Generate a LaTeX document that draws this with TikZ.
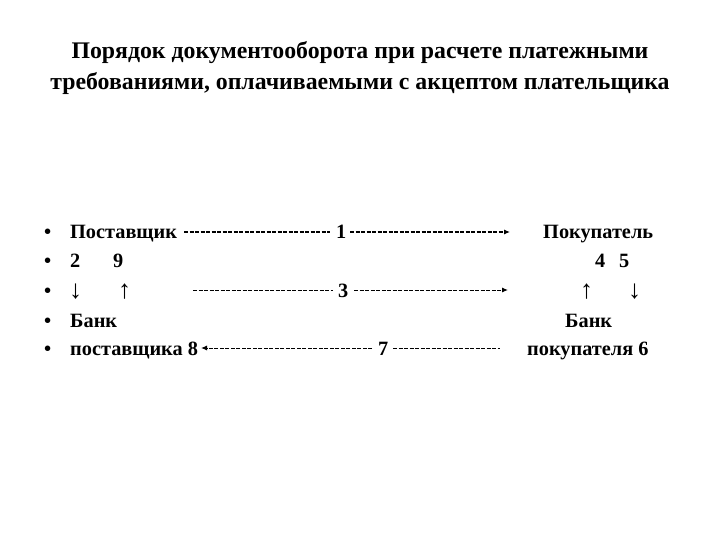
\documentclass[tikz,border=0pt]{standalone}
\usepackage{fontspec}
\usetikzlibrary{arrows.meta}
\setmainfont{Liberation Serif}
\begin{document}
\begin{tikzpicture}[x=1pt,y=-1pt,
  tx/.style={font=\bfseries\fontsize{20.3}{22}\selectfont,inner sep=0pt,anchor=base west},
  arw/.style={font=\fontsize{26}{26}\selectfont,inner sep=0pt,anchor=base west},
  ttl/.style={font=\bfseries\fontsize{23.8}{26}\selectfont,inner sep=0pt,anchor=base},
  dl/.style={line width=1pt,dash pattern=on 4pt off 1.5pt},
  ar/.style={dl,-{Latex[length=6pt,width=5pt]}}]
\useasboundingbox (0,0) rectangle (720,540);
\node[ttl] (t1) at (360,59) {Порядок документооборота при расчете платежными};
\node[ttl] (t2) at (360,90) {требованиями, оплачиваемыми с акцептом плательщика};
\foreach \y [count=\i] in {239,267,297,327,355} \node[tx] (b\i) at (44,\y) {•};
\node[tx] (post) at (70,239) {Поставщик};
\node[tx] (n1) at (336,239) {1};
\node[tx] (pok) at (543,239) {Покупатель};
\coordinate (a1) at (184,232); \coordinate (a2) at (330,232);
\coordinate (a3) at (350,232); \coordinate (a4) at (510,232);
\draw[dl] (a1) -- (a2); \draw[ar] (a3) -- (a4);
\node[tx] (n2) at (70,267) {2};
\node[tx] (n9) at (113,267) {9};
\node[tx] (n4) at (595,267) {4};
\node[tx] (n5) at (619,267) {5};
\node[arw] (d1) at (69,298) {↓};
\node[arw] (u1) at (118,298) {↑};
\node[arw] (u2) at (580,298) {↑};
\node[arw] (d2) at (628,298) {↓};
\node[tx] (n3) at (338,297) {3};
\coordinate (c1) at (193,290); \coordinate (c2) at (333,290);
\coordinate (c3) at (354,290); \coordinate (c4) at (508,290);
\draw[dl] (c1) -- (c2); \draw[ar] (c3) -- (c4);
\node[tx] (bank1) at (70,327) {Банк};
\node[tx] (bank2) at (565,327) {Банк};
\node[tx] (ps8) at (70,355) {поставщика 8};
\node[tx] (n7) at (378,355) {7};
\node[tx] (pk6) at (527,355) {покупателя 6};
\coordinate (e1) at (201,348); \coordinate (e2) at (372,348);
\coordinate (e3) at (393,348); \coordinate (e4) at (500,348);
\draw[ar] (e2) -- (e1); \draw[dl] (e3) -- (e4);
\end{tikzpicture}
\end{document}
